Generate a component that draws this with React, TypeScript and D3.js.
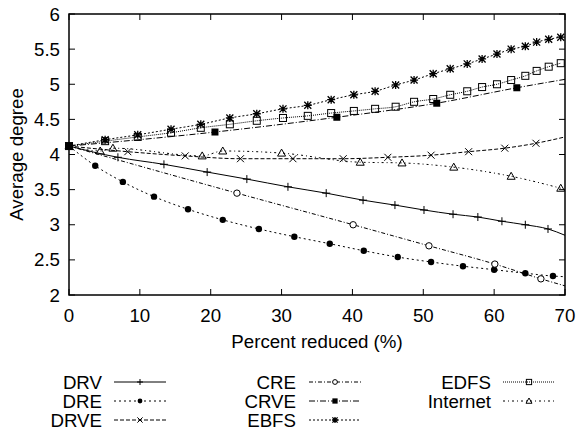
import React from "react";
import * as d3 from "d3";

const xTicks = [0, 10, 20, 30, 40, 50, 60, 70];
const yTicks = [2, 2.5, 3, 3.5, 4, 4.5, 5, 5.5, 6];
const yTickLabels = ["2", "2.5", "3", "3.5", "4", "4.5", "5", "5.5", "6"];

const drvX = [0, 6.9, 13.4, 19.5, 25.1, 30.9, 36.3, 41.5, 46.0, 50.1, 54.2, 57.7, 61.1, 64.4, 67.6];
const drvY = [4.12, 3.96, 3.86, 3.75, 3.65, 3.54, 3.45, 3.35, 3.28, 3.21, 3.15, 3.11, 3.05, 3.0, 2.94];
const drvTail = [70, 2.85];

const dreX = [0, 3.7, 7.6, 12.0, 16.8, 21.7, 26.8, 31.8, 36.8, 41.6, 46.4, 51.1, 55.6, 60.0, 64.4, 68.3];
const dreY = [4.12, 3.84, 3.61, 3.4, 3.22, 3.07, 2.94, 2.83, 2.73, 2.63, 2.54, 2.47, 2.41, 2.36, 2.31, 2.27];
const dreTail = [70, 2.26];

const drveX = [0, 8.3, 16.4, 24.2, 31.6, 38.7, 45.0, 51.1, 56.4, 61.5, 65.9];
const drveY = [4.12, 4.04, 3.98, 3.94, 3.94, 3.94, 3.96, 3.99, 4.04, 4.09, 4.16];
const drveTail = [70, 4.25];

const creX = [0, 23.7, 40.1, 50.8, 60.1, 66.6];
const creY = [4.12, 3.45, 3.0, 2.7, 2.44, 2.23];
const creTail = [70, 2.13];

const crveX = [0, 20.6, 37.8, 51.9, 63.2];
const crveY = [4.12, 4.32, 4.53, 4.73, 4.95];
const crveTail = [70, 5.07];

const bfsX = [0, 5.1, 9.7, 14.4, 18.6, 22.7, 26.5, 30.2, 33.7, 37.0, 40.2, 43.2, 46.1, 48.7, 51.4, 53.8, 56.2, 58.3, 60.4, 62.4, 64.4, 66.0, 67.7, 69.4];
const ebfsY = [4.12, 4.21, 4.28, 4.36, 4.43, 4.52, 4.58, 4.65, 4.7, 4.78, 4.85, 4.9, 4.99, 5.06, 5.15, 5.22, 5.29, 5.36, 5.43, 5.5, 5.54, 5.6, 5.64, 5.67];
const edfsY = [4.12, 4.19, 4.25, 4.31, 4.38, 4.43, 4.48, 4.52, 4.55, 4.59, 4.62, 4.65, 4.68, 4.75, 4.79, 4.85, 4.9, 4.96, 5.0, 5.06, 5.12, 5.19, 5.25, 5.3];

const internetX = [0, 4.4, 6.2, 18.8, 21.7, 30.0, 41.1, 47.0, 54.3, 62.4, 69.4];
const internetY = [4.12, 4.05, 4.09, 3.98, 4.05, 4.02, 3.89, 3.88, 3.82, 3.69, 3.52];

type Series = {
  name: string;
  xs: number[];
  ys: number[];
  tail: number[] | null;
  dash: string;
  marker: string;
  col: number;
  row: number;
};

const series: Series[] = [
  { name: "DRV", xs: drvX, ys: drvY, tail: drvTail, dash: "none", marker: "plus", col: 0, row: 0 },
  { name: "DRE", xs: dreX, ys: dreY, tail: dreTail, dash: "2,3", marker: "fcircle", col: 0, row: 1 },
  { name: "DRVE", xs: drveX, ys: drveY, tail: drveTail, dash: "4,2", marker: "cross", col: 0, row: 2 },
  { name: "CRE", xs: creX, ys: creY, tail: creTail, dash: "4,2,1,2", marker: "ocircle", col: 1, row: 0 },
  { name: "CRVE", xs: crveX, ys: crveY, tail: crveTail, dash: "6,2,1,2", marker: "fsquare", col: 1, row: 1 },
  { name: "EBFS", xs: bfsX, ys: ebfsY, tail: null, dash: "2,2", marker: "star", col: 1, row: 2 },
  { name: "EDFS", xs: bfsX, ys: edfsY, tail: null, dash: "1,1", marker: "osquare", col: 2, row: 0 },
  { name: "Internet", xs: internetX, ys: internetY, tail: null, dash: "2,3,1,3", marker: "otriangle", col: 2, row: 1 },
];

const FONT = "'Liberation Sans', Arial, Helvetica, sans-serif";
const FS = 18.7;

function Marker({ type, x, y, s = 1 }: { type: string; x: number; y: number; s?: number }) {
  const t = `translate(${x},${y}) scale(${s})`;
  const sw = 1 / s;
  switch (type) {
    case "plus":
      return <path transform={t} d="M-4,0H4M0,-4V4" stroke="#000" strokeWidth={sw} fill="none" />;
    case "cross":
      return <path transform={t} d="M-3.5,-3.5L3.5,3.5M-3.5,3.5L3.5,-3.5" stroke="#000" strokeWidth={sw} fill="none" />;
    case "star":
      return (
        <path
          transform={t}
          d="M-4,0H4M0,-4V4M-3.5,-3.5L3.5,3.5M-3.5,3.5L3.5,-3.5"
          stroke="#000"
          strokeWidth={1.3 / s}
          fill="none"
        />
      );
    case "fcircle":
      return <circle transform={t} cx={0} cy={0} r={3.2} fill="#000" />;
    case "ocircle":
      return <circle transform={t} cx={0} cy={0} r={3.2} fill="#fff" stroke="#000" strokeWidth={sw} />;
    case "fsquare":
      return <rect transform={t} x={-3.5} y={-3.5} width={7} height={7} fill="#000" />;
    case "osquare":
      return <rect transform={t} x={-3.5} y={-3.5} width={7} height={7} fill="none" stroke="#000" strokeWidth={sw} />;
    case "otriangle":
      return <path transform={t} d="M0,-4L4,3L-4,3Z" fill="none" stroke="#000" strokeWidth={sw} />;
    default:
      return null;
  }
}

export default function App() {
  const W = 579;
  const H = 431;
  const left = 69;
  const right = 565;
  const top = 14;
  const bottom = 295;

  const x = d3.scaleLinear().domain([0, 70]).range([left, right]);
  const y = d3.scaleLinear().domain([2, 6]).range([bottom, top]);

  const line = d3
    .line<number[]>()
    .x((d) => x(d[0]))
    .y((d) => y(d[1]))
    .curve(d3.curveMonotoneX);

  const colText = [102, 296, 491];
  const colSample = [
    [114, 166],
    [309, 361],
    [503, 555],
  ];
  const rowY = [382, 401, 420];
  const tickLen = 6;

  return (
    <svg
      width={W}
      height={H}
      style={{ position: "absolute", left: 0, top: 0, background: "#fff" }}
      fontFamily={FONT}
    >
      <rect x={0} y={0} width={W} height={H} fill="#fff" />
      <defs>
        <clipPath id="plotclip">
          <rect x={left} y={top} width={right - left} height={bottom - top} />
        </clipPath>
      </defs>

      {xTicks.map((t) => (
        <g key={"xt" + t}>
          <line x1={x(t)} x2={x(t)} y1={bottom} y2={bottom - tickLen} stroke="#000" strokeWidth={1} />
          <line x1={x(t)} x2={x(t)} y1={top} y2={top + tickLen} stroke="#000" strokeWidth={1} />
          <text x={x(t)} y={322} textAnchor="middle" fontSize={FS} fill="#000">
            {String(t)}
          </text>
        </g>
      ))}
      {yTicks.map((t, i) => (
        <g key={"yt" + t}>
          <line x1={left} x2={left + tickLen} y1={y(t)} y2={y(t)} stroke="#000" strokeWidth={1} />
          <line x1={right} x2={right - tickLen} y1={y(t)} y2={y(t)} stroke="#000" strokeWidth={1} />
          <text x={60} y={y(t) + 6.5} textAnchor="end" fontSize={FS} fill="#000">
            {yTickLabels[i]}
          </text>
        </g>
      ))}

      <g clipPath="url(#plotclip)">
        {series.map((s) => {
          const pts = s.xs.map((xv, i) => [xv, s.ys[i]]);
          const all = s.tail ? [...pts, s.tail] : pts;
          return (
            <path
              key={"l" + s.name}
              d={line(all) || ""}
              fill="none"
              stroke="#000"
              strokeWidth={1}
              strokeDasharray={s.dash}
            />
          );
        })}
      </g>
      {series.map((s) => (
        <g key={"m" + s.name}>
          {s.xs.map((xv, i) => (
            <Marker key={i} type={s.marker} x={x(xv)} y={y(s.ys[i])} />
          ))}
        </g>
      ))}

      <rect x={left} y={top} width={right - left} height={bottom - top} fill="none" stroke="#000" strokeWidth={1.5} />

      <text x={(left + right) / 2} y={348} textAnchor="middle" fontSize={FS} fill="#000">
        Percent reduced (%)
      </text>
      <text
        transform={`translate(23,${(top + bottom) / 2}) rotate(-90)`}
        textAnchor="middle"
        fontSize={FS}
        fill="#000"
      >
        Average degree
      </text>

      {series.map((s) => {
        const cy = rowY[s.row];
        const [sx0, sx1] = colSample[s.col];
        return (
          <g key={"lg" + s.name}>
            <text x={colText[s.col]} y={cy + 6.5} textAnchor="end" fontSize={FS} fill="#000">
              {s.name}
            </text>
            <line x1={sx0} x2={sx1} y1={cy} y2={cy} stroke="#000" strokeWidth={1} strokeDasharray={s.dash} />
            <Marker type={s.marker} x={(sx0 + sx1) / 2} y={cy} s={0.75} />
          </g>
        );
      })}
    </svg>
  );
}
